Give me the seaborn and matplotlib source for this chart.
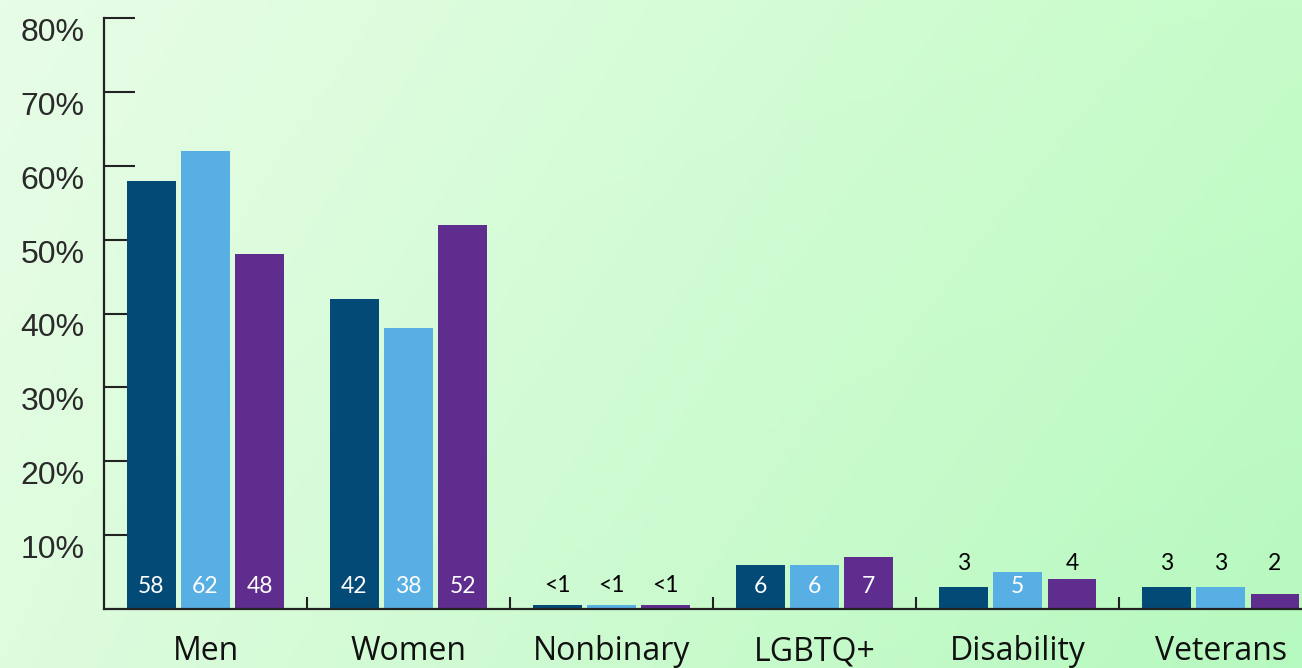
import numpy as np
import pandas as pd
import matplotlib
matplotlib.use("Agg")
import matplotlib.pyplot as plt
from matplotlib.ticker import FixedLocator
import seaborn as sns

# data
groups = ["Men", "Women", "Nonbinary", "LGBTQ+", "Disability", "Veterans"]
series_names = ["Series A", "Series B", "Series C"]
series_a = [58, 42, 0.5, 6, 3, 3]
series_b = [62, 38, 0.5, 6, 5, 3]
series_c = [48, 52, 0.5, 7, 4, 2]
labels_a = ["58", "42", "<1", "6", "3", "3"]
labels_b = ["62", "38", "<1", "6", "5", "3"]
labels_c = ["48", "52", "<1", "7", "4", "2"]
colors = ["#034b76", "#58afe3", "#5f2d8e"]
y_ticks = [10, 20, 30, 40, 50, 60, 70, 80]

rows = []
for name, vals in zip(series_names, [series_a, series_b, series_c]):
    for g, v in zip(groups, vals):
        rows.append({"group": g, "series": name, "value": v})
df = pd.DataFrame(rows)

sns.set_theme(style="white")
plt.rcParams["font.family"] = ["Liberation Sans", "DejaVu Sans"]

fig = plt.figure(figsize=(13.02, 6.68), dpi=100)

# gradient background
bg = fig.add_axes([0, 0, 1, 1], zorder=0)
tl = np.array([232, 253, 231]) / 255
tr = np.array([198, 252, 201]) / 255
bl = np.array([222, 252, 222]) / 255
br = np.array([182, 249, 190]) / 255
u = np.linspace(0, 1, 200)[None, :, None]
v = np.linspace(0, 1, 100)[:, None, None]
img = (1 - v) * ((1 - u) * tl + u * tr) + v * ((1 - u) * bl + u * br)
bg.imshow(img, aspect="auto", extent=[0, 1, 0, 1], origin="upper")
bg.axis("off")

ax = fig.add_axes([104 / 1302, 59 / 668, 1 - 104 / 1302, (609 - 18) / 668], zorder=1)
ax.patch.set_alpha(0)

sns.barplot(data=df, x="group", y="value", hue="series", order=groups,
            hue_order=series_names, palette=colors, width=0.8, gap=0.1,
            saturation=1, legend=False, linewidth=0, ax=ax)

lab_font = ["Lato", "DejaVu Sans"]
all_labels = [labels_a, labels_b, labels_c]
all_vals = [series_a, series_b, series_c]
for cont, labs, vals in zip(ax.containers, all_labels, all_vals):
    for bar, lab, val in zip(cont, labs, vals):
        cx = bar.get_x() + bar.get_width() / 2
        if val >= 5:
            ax.text(cx, 3, lab, ha="center", va="center", color="white",
                    fontsize=16.5, family=lab_font)
        elif val < 1:
            ax.text(cx, 3.2, lab, ha="center", va="center", color="black",
                    fontsize=16.5, family=lab_font)
        else:
            ax.text(cx, 6.2, lab, ha="center", va="center", color="black",
                    fontsize=16.5, family=lab_font)

ax.set_ylim(0, 80)
ax.set_xlim(-0.5, 5.4)
ax.set_yticks(y_ticks)
ax.set_yticklabels([f"{t}%" for t in y_ticks])
for lab in ax.get_yticklabels():
    lab.set_verticalalignment("top")
ax.set_xlabel("")
ax.set_ylabel("")

for s in ["top", "right"]:
    ax.spines[s].set_visible(False)
for s in ["left", "bottom"]:
    ax.spines[s].set_color("#222222")
    ax.spines[s].set_linewidth(1.6)

ax.tick_params(axis="y", direction="in", length=22, width=1.5, color="#222222",
               labelsize=23, labelcolor="#2a2a2a", pad=14, left=True)
ax.tick_params(axis="x", which="major", length=0, labelsize=23, pad=19,
               labelcolor="#111111")
for lab in ax.get_xticklabels():
    lab.set_family(["Open Sans", "DejaVu Sans"])
ax.xaxis.set_minor_locator(FixedLocator([0.5, 1.5, 2.5, 3.5, 4.5]))
ax.tick_params(axis="x", which="minor", direction="in", length=9, width=1.5,
               color="#222222", bottom=True)

fig.savefig("out.png", dpi=100)
